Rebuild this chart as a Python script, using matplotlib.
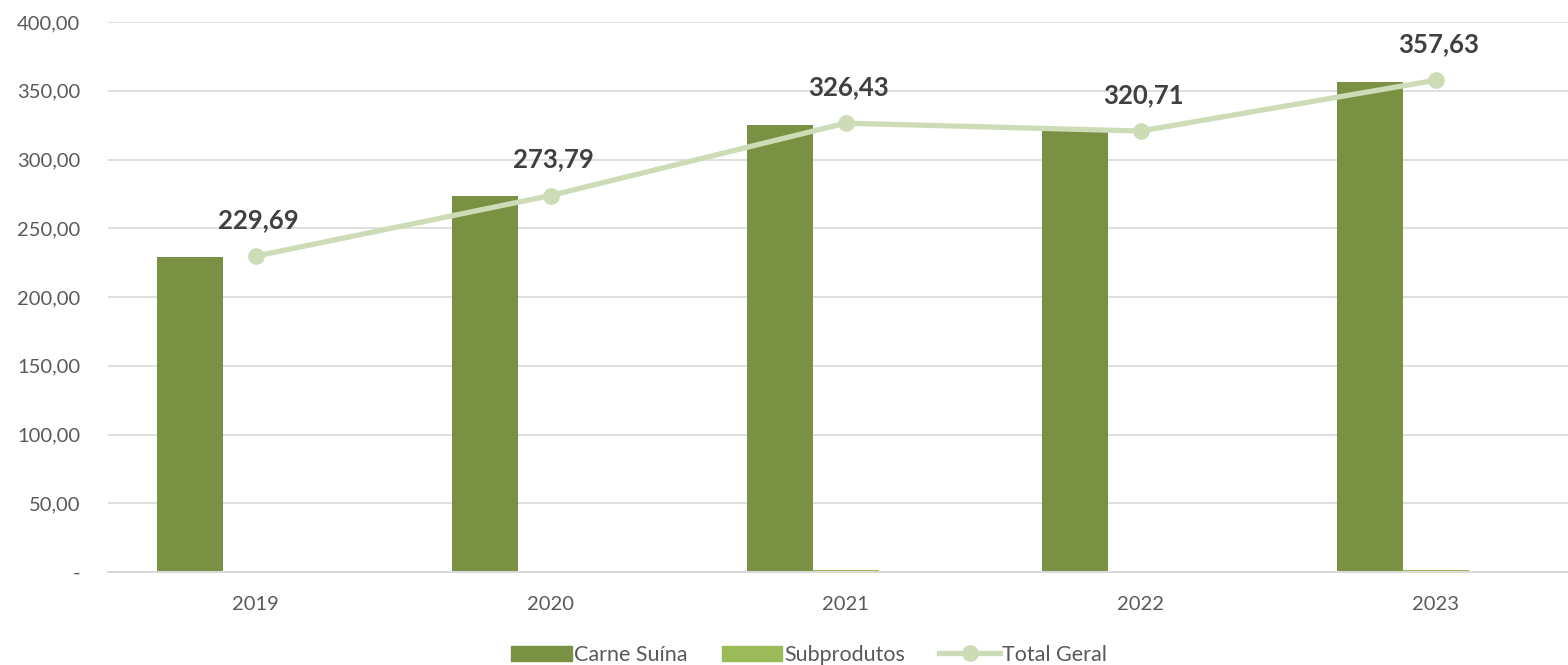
import matplotlib
matplotlib.use('Agg')
import matplotlib.pyplot as plt
from matplotlib.ticker import FuncFormatter
from matplotlib.lines import Line2D
from matplotlib.patches import Patch
import numpy as np

plt.rcParams['font.family'] = ['Lato', 'DejaVu Sans']

years = ['2019', '2020', '2021', '2022', '2023']
carne_suina = [229.40, 273.50, 325.10, 320.40, 356.50]
subprodutos = [0.29, 0.29, 1.33, 0.31, 1.13]
total_geral = [229.69, 273.79, 326.43, 320.71, 357.63]

C_CARNE = '#7a9143'
C_SUB = '#9bbb59'
C_TOTAL = '#cddbb6'
C_TXT = '#595959'
C_GRID = '#d9d9d9'

fig = plt.figure(figsize=(15.68, 6.65), dpi=100)
ax = fig.add_axes([108 / 1568, 93 / 665, 1475 / 1568, 550 / 665])

x = np.arange(len(years))
w = 66 / 295
ax.bar(x - w, carne_suina, width=w, color=C_CARNE, zorder=2)
ax.bar(x, subprodutos, width=w, color=C_SUB, zorder=2)
ax.plot(x, total_geral, color=C_TOTAL, lw=3.8, marker='o', ms=11,
        solid_capstyle='round', zorder=3)

for xi, v in zip(x, total_geral):
    ax.annotate(f'{v:.2f}'.replace('.', ','),
                (xi, v), xytext=(2, 26), textcoords='offset points',
                ha='center', va='center', fontsize=18.5, fontweight='bold',
                color='#404040', zorder=4)

ax.set_xlim(-0.5, len(years) - 0.5)
ax.set_ylim(0, 400)
ax.set_yticks(np.arange(0, 401, 50))
ax.yaxis.set_major_formatter(FuncFormatter(
    lambda v, p: '-' if v == 0 else f'{v:.2f}'.replace('.', ',')))
ax.set_xticks(x)
ax.set_xticklabels(years)
ax.tick_params(length=0, labelsize=14.5, colors=C_TXT)
ax.tick_params(axis='x', pad=17)
ax.tick_params(axis='y', pad=20)
ax.grid(axis='y', color=C_GRID, lw=1.2, zorder=0)
for s in ['top', 'right', 'left']:
    ax.spines[s].set_visible(False)
ax.spines['bottom'].set_color(C_GRID)
ax.spines['bottom'].set_linewidth(1.5)

handles = [Patch(color=C_CARNE, label='Carne Suína'),
           Patch(color=C_SUB, label='Subprodutos'),
           Line2D([], [], color=C_TOTAL, lw=3.8, marker='o', ms=11, label='Total Geral')]
fig.legend(handles=handles, loc='center', bbox_to_anchor=(0.516, 10 / 665), ncol=3,
           frameon=False, fontsize=15.5, labelcolor=C_TXT, handlelength=2.8,
           handleheight=0.75, columnspacing=1.6, handletextpad=0.1)

fig.savefig('out.png', dpi=100, facecolor='white')
